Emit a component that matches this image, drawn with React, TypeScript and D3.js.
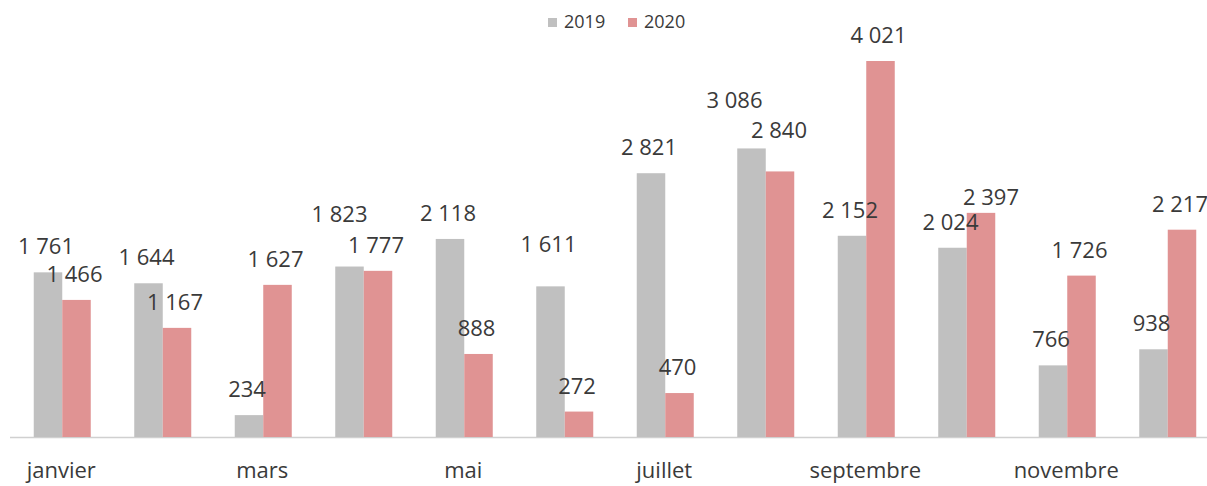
import * as d3 from 'd3';
import React from 'react';

const months = ['janvier', 'février', 'mars', 'avril', 'mai', 'juin', 'juillet', 'août', 'septembre', 'octobre', 'novembre', 'décembre'];
const series = ['2019', '2020'];
const values2019 = [1761, 1644, 234, 1823, 2118, 1611, 2821, 3086, 2152, 2024, 766, 938];
const values2020 = [1466, 1167, 1627, 1777, 888, 272, 470, 2840, 4021, 2397, 1726, 2217];
const shownLabels = ['janvier', 'mars', 'mai', 'juillet', 'septembre', 'novembre'];

// a few data labels were dragged by hand in the original, [dx, dy]
const nudge: Record<string, [number, number]> = {
  '2019-3': [-10, -27],
  '2019-5': [-2, -16],
  '2019-7': [-17, -22],
  '2020-7': [-1, -15],
  '2020-9': [10, 10],
};

const colors = ['#c0c0c0', '#e09393'];
const W = 1207;
const H = 486;
const baseline = 437;

const fmt = (v: number) => d3.format(',')(v).replace(/,/g, ' ');

const App = () => {
  const x0 = d3.scaleBand().domain(months).range([12, 1218]);
  const x1 = d3.scaleBand().domain(series).range([0, 57]);
  const y = d3.scaleLinear().domain([0, 4021]).range([baseline, 61]);
  const inner = (x0.bandwidth() - 57) / 2;
  const all = [values2019, values2020];

  // flat list so labels can be drawn after every bar
  const cells = months.flatMap((m, i) => series.map((s, j) => ({
    key: `${s}-${i}`,
    x: x0(m)! + inner + x1(s)!,
    v: all[j][i],
    color: colors[j],
  })));

  return (
    <svg width={W} height={H} style={{ position: 'absolute', left: 0, top: 0, background: '#fff' }}
      fontFamily="'Open Sans', sans-serif">
      <line x1={10} x2={W} y1={baseline + 0.5} y2={baseline + 0.5} stroke="#d0d0d0" strokeWidth={1.5} />
      {cells.map(c => (
        <rect key={c.key} x={c.x} y={y(c.v)} width={x1.bandwidth()} height={baseline - y(c.v)} fill={c.color} />
      ))}
      {cells.map(c => {
        const [dx, dy] = nudge[c.key] || [-2, 0];
        return (
          <text key={c.key} x={c.x + x1.bandwidth() / 2 + dx} y={y(c.v) - 18 + dy} textAnchor="middle" fontSize={22} fill="#3a3a3a">
            {fmt(c.v)}
          </text>
        );
      })}
      {shownLabels.map(m => (
        <text key={m} x={x0(m)! + x0.bandwidth() / 2 - 1} y={478} textAnchor="middle" fontSize={22} fill="#3a3a3a">
          {m}
        </text>
      ))}
      <g transform="translate(548,0)">
        {series.map((s, j) => (
          <g key={s} transform={`translate(${j * 80},0)`}>
            <rect x={0} y={18} width={9} height={9} fill={colors[j]} />
            <text x={16} y={28} fontSize={18} fill="#3a3a3a">{s}</text>
          </g>
        ))}
      </g>
    </svg>
  );
};

export default App;
